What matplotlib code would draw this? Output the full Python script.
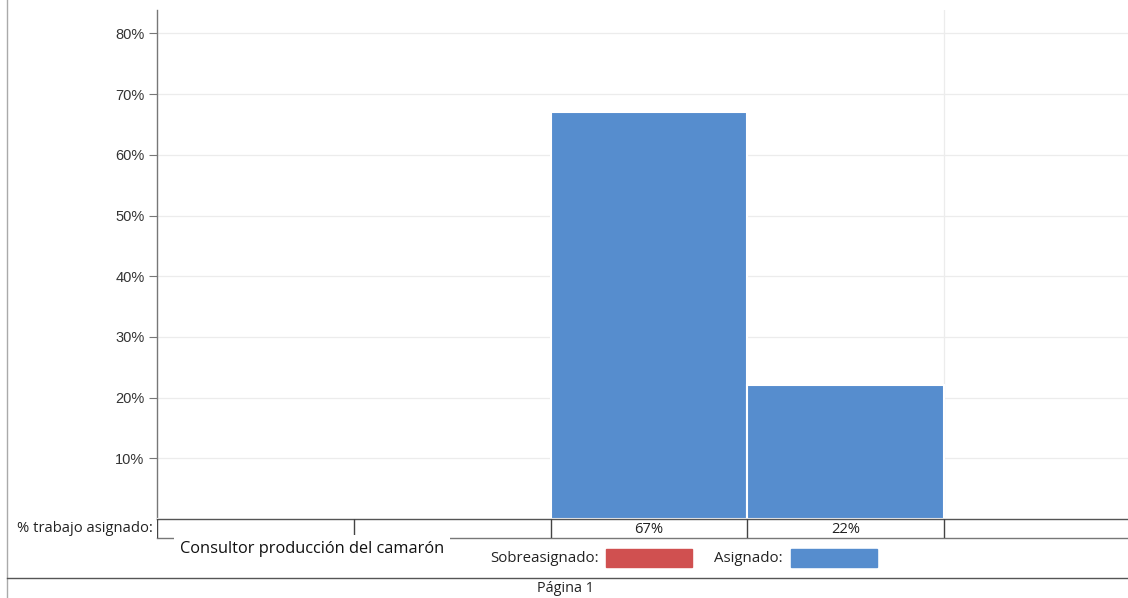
import numpy as np
import matplotlib.pyplot as plt

# asignación por columna del calendario (None = sin trabajo)
columnas = ['', '', '', '', '']
asignado = [None, None, 67, 22, None]
sobreasignado = [0, 0, 0, 0, 0]
y_ticks = [10, 20, 30, 40, 50, 60, 70, 80]
recurso = 'Consultor producción del camarón'

azul = '#568dce'
rojo = '#d05050'
W, H = 1128, 598

fig = plt.figure(figsize=(W / 100, H / 100), dpi=100)

def px_axes(x0, y_top, x1, y_bot):
    return fig.add_axes([x0 / W, 1 - y_bot / H, (x1 - x0) / W, (y_bot - y_top) / H])

col_px = (944 - 157) / 4.0
x_max = (W - 157) / col_px

# área del gráfico
ax = px_axes(157, 10, W, 519)
vals = [v if v is not None else 0 for v in asignado]
x = np.arange(len(columnas)) + 0.5
ax.bar(x, vals, width=1.0, color=azul, edgecolor='white', linewidth=1.5, zorder=3)
ax.set_xlim(0, x_max)
ax.set_ylim(0, (519 - 10) / 6.07)
ax.set_yticks(y_ticks)
ax.set_yticklabels(['%d%%' % t for t in y_ticks], fontsize=10.5, color='#333333',
                   family='Liberation Sans')
ax.tick_params(axis='y', length=6, color='#777777', pad=3)
ax.set_xticks([])
ax.grid(axis='y', color='#ececec', linewidth=0.9, zorder=0)
ax.axvline(4, color='#ececec', linewidth=0.9, zorder=0)
for s in ['top', 'right', 'bottom']:
    ax.spines[s].set_visible(False)
ax.spines['left'].set_color('#777777')
ax.spines['left'].set_linewidth(1.0)

# tabla de % trabajo asignado
tb = px_axes(157, 519, W, 538)
tb.set_xlim(0, x_max)
tb.set_ylim(0, 1)
tb.axis('off')
tb.axhline(1, color='#555555', linewidth=1.0, clip_on=False)
tb.axhline(0, color='#777777', linewidth=1.0, clip_on=False)
for i in range(len(columnas)):
    tb.axvline(i, color='#444444', linewidth=1.0)
for xi, v in zip(x, asignado):
    if v is not None:
        tb.text(xi, 0.45, '%d%%' % v, ha='center', va='center', fontsize=10.6,
                family='Open Sans', color='#222222')

fig.text(153 / W, 1 - 528 / H, '% trabajo asignado:', ha='right', va='center',
         fontsize=10.6, family='Open Sans', color='#222222')

fig.text(180 / W, 1 - 549 / H, recurso, ha='left', va='center', fontsize=11.8,
         family='Open Sans', color='#111111',
         bbox=dict(facecolor='white', edgecolor='none', pad=4))

# leyenda
fig.text(490 / W, 1 - 558 / H, 'Sobreasignado:', ha='left', va='center',
         fontsize=10.8, family='Open Sans', color='#222222')
fig.patches.append(plt.Rectangle((606 / W, 1 - 567 / H), 86 / W, 18 / H,
                                 transform=fig.transFigure, color=rojo))
fig.text(714 / W, 1 - 558 / H, 'Asignado:', ha='left', va='center',
         fontsize=10.8, family='Open Sans', color='#222222')
fig.patches.append(plt.Rectangle((791 / W, 1 - 567 / H), 86 / W, 18 / H,
                                 transform=fig.transFigure, color=azul))

# bordes de página y pie
fig.add_artist(plt.Line2D([7 / W, 7 / W], [0, 1], transform=fig.transFigure,
                          color='#aaaaaa', linewidth=1.0))
fig.add_artist(plt.Line2D([7 / W, 1], [1 - 578 / H, 1 - 578 / H],
                          transform=fig.transFigure, color='#555555', linewidth=1.0))
fig.text(565 / W, 1 - 589 / H, 'Página 1', ha='center', va='center',
         fontsize=10.4, family='Open Sans', color='#222222')

fig.savefig('out.png', dpi=100)
